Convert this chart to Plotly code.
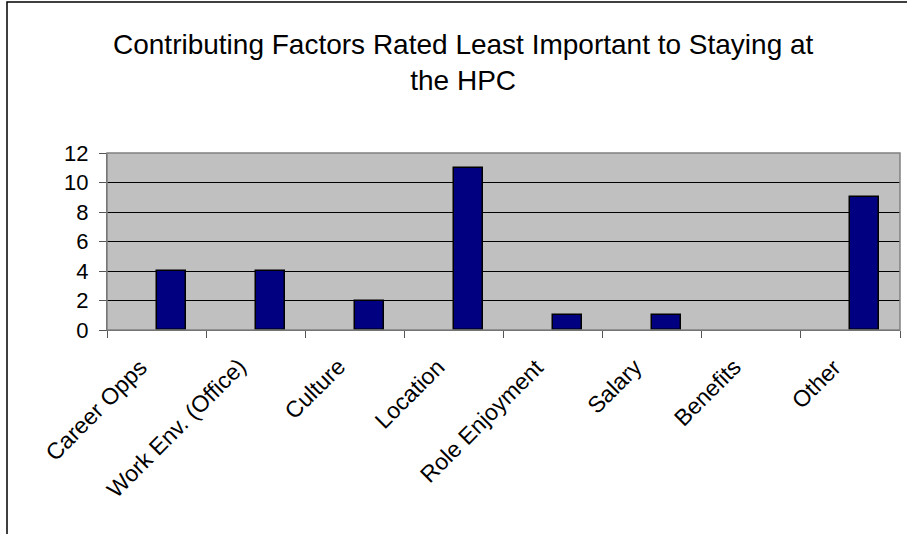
import plotly.graph_objects as go

categories = ["Career Opps", "Work Env. (Office)", "Culture", "Location",
              "Role Enjoyment", "Salary", "Benefits", "Other"]
counts = [4, 4, 2, 11, 1, 1, 0, 9]
y_ticks = [0, 2, 4, 6, 8, 10, 12]
title_text = "Contributing Factors Rated Least Important to Staying at<br>the HPC"

FONT = "Liberation Sans, Arial, sans-serif"

# Empty categories get no outline so no stray line sits on the axis
outline_widths = [1.5 if v > 0 else 0 for v in counts]

fig = go.Figure()
fig.add_trace(go.Bar(
    x=categories,
    y=counts,
    width=0.293,
    offset=0,
    marker=dict(color="#000080", line=dict(color="#000000", width=outline_widths)),
    hoverinfo="x+y",
))

fig.update_layout(
    width=907,
    height=534,
    margin=dict(l=107, r=7, t=153, b=204),
    paper_bgcolor="#FFFFFF",
    plot_bgcolor="#C0C0C0",
    showlegend=False,
    bargap=0,
    font=dict(family=FONT, color="#000000"),
)

fig.update_xaxes(
    type="category",
    showticklabels=False,
    ticks="outside",
    tickson="boundaries",
    ticklen=7,
    tickcolor="#555555",
    showline=True,
    linecolor="#555555",
    linewidth=1,
    showgrid=False,
    range=[-0.5, 7.5],
)

fig.update_yaxes(
    range=[0, 12],
    tickvals=y_ticks,
    ticktext=[str(v) for v in y_ticks],
    tickfont=dict(size=22, family=FONT, color="#000000"),
    ticks="outside",
    ticklen=7,
    tickcolor="#555555",
    ticklabelstandoff=6,
    showline=True,
    linecolor="#555555",
    linewidth=1,
    showgrid=True,
    gridcolor="#000000",
    gridwidth=1,
    zeroline=False,
)

# Slanted category labels, each ending just left of its category centre
for cat in categories:
    fig.add_annotation(
        text=cat,
        xref="x", yref="paper",
        x=cat, y=0,
        xanchor="right", yanchor="top",
        xshift=-2, yshift=-21,
        textangle=-45,
        showarrow=False,
        font=dict(size=23, family=FONT, color="#000000"),
    )

# Plot-area border (top and right edges in grey)
fig.add_shape(type="rect", xref="paper", yref="paper", x0=0, y0=0, x1=1, y1=1,
              line=dict(color="#808080", width=1.5), fillcolor="rgba(0,0,0,0)", layer="above")

# Chart-area frame, running past the right and bottom of the page
fig.add_shape(type="rect", xref="paper", yref="paper",
              x0=-0.1261, y0=-1.3, x1=1.2, y1=1.853,
              line=dict(color="#000000", width=1.5), fillcolor="rgba(0,0,0,0)")

fig.add_annotation(
    text=title_text,
    xref="paper", yref="paper",
    x=0.450, y=1.514,
    xanchor="center", yanchor="middle",
    showarrow=False,
    align="center",
    font=dict(size=28, family=FONT, color="#000000"),
)

fig.write_html("out.html")
